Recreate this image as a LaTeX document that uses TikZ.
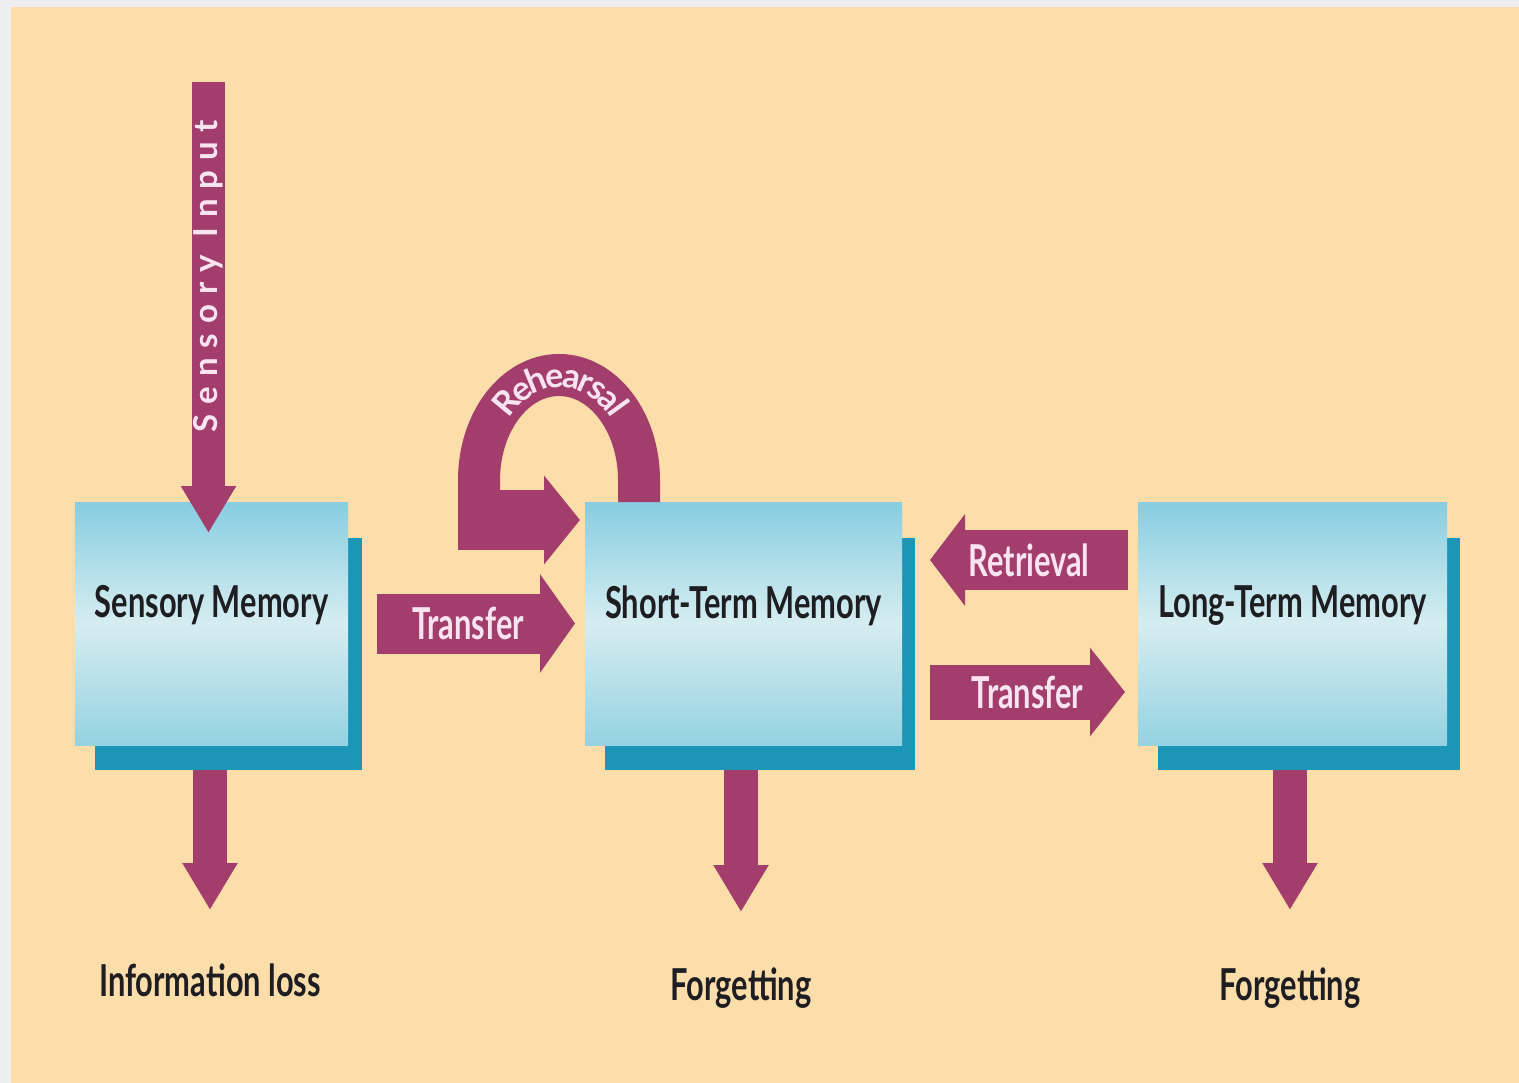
\documentclass[tikz,border=0pt]{standalone}
\usepackage{fontspec}
\setmainfont{Lato}[FakeStretch=0.7]
\newfontfamily\spacedfont{Lato}[LetterSpace=30]
\newfontfamily\archfont{Lato}[LetterSpace=8]
\usetikzlibrary{arrows.meta,decorations.text}

\definecolor{peach}{RGB}{253,221,170}
\definecolor{framegray}{RGB}{238,238,238}
\definecolor{plum}{RGB}{163,62,108}
\definecolor{tealdark}{RGB}{28,150,182}
\definecolor{boxtop}{RGB}{135,205,225}
\definecolor{boxmid}{RGB}{214,237,240}
\definecolor{boxbot}{RGB}{148,210,226}
\definecolor{pinkwhite}{RGB}{250,228,242}
\definecolor{inkdark}{RGB}{30,30,34}

\newcommand\rehfont{\archfont\bfseries\fontsize{34}{34}\selectfont\color{pinkwhite}}

\tikzset{
	membox/.style={inner sep=0,outer sep=0,top color=boxtop,bottom color=boxbot,middle color=boxmid},
	memshadow/.style={fill=tealdark,inner sep=0,outer sep=0},
	memtext/.style={text=inkdark,font=\bfseries\fontsize{44}{44}\selectfont,inner sep=0},
	outtext/.style={text=inkdark,font=\bfseries\fontsize{44}{44}\selectfont,inner sep=0},
	flow/.style={draw=plum,fill=plum},
	arrowtext/.style={text=pinkwhite,font=\bfseries\fontsize{44}{44}\selectfont,inner sep=0}
}

\begin{document}
\begin{tikzpicture}[x=1pt,y=-1pt]
	\fill[framegray] (0,0) rectangle (1519,1083);
	\fill[peach] (11,7) rectangle (1519,1083);
	\useasboundingbox (0,0) rectangle (1519,1083);

	% memory stores
	\node[memshadow,minimum width=267pt,minimum height=232pt] (smsh) at (228.5,654) {};
	\node[membox,minimum width=273pt,minimum height=243pt] (sm) at (211.5,623.5) {};
	\node[memtext] (smtext) at ([yshift=18pt]sm.center) {Sensory Memory};

	\node[memshadow,minimum width=310pt,minimum height=232pt] (stmsh) at (760,654) {};
	\node[membox,minimum width=317pt,minimum height=243pt] (stm) at (743.5,623.5) {};
	\node[memtext] (stmtext) at ([yshift=18pt]stm.center) {Short-Term Memory};

	\node[memshadow,minimum width=302pt,minimum height=232pt] (ltmsh) at (1309,654) {};
	\node[membox,minimum width=309pt,minimum height=243pt] (ltm) at (1292.5,623.5) {};
	\node[memtext] (ltmtext) at ([yshift=18pt]ltm.center) {Long-Term Memory};

	% outcomes
	\node[outtext] (loss) at (210,980) {Information loss};
	\node[outtext] (forget1) at (741,988) {Forgetting};
	\node[outtext] (forget2) at (1290,988) {Forgetting};

	% input
	\coordinate (in) at (208.5,82);
	\draw[flow,line width=33pt,-{Triangle[length=47pt,width=52pt]}] (in) -- ([shift={(0,31)}]in |- sm.north)
		node[pos=0.43,rotate=90,arrowtext,font=\spacedfont\bfseries\fontsize{33}{33}\selectfont] (intext) {Sensory Input};

	% transfers
	\draw[flow,line width=60pt,-{Triangle[length=35pt,width=97pt]}] ([xshift=29pt]sm.east) -- ([xshift=-10pt]stm.west)
		node[pos=0.46,arrowtext] (tr1) {Transfer};
	\draw[flow,line width=60pt,-{Triangle[length=35pt,width=90pt]}] ([shift={(-10,-63.5)}]ltm.west) -- ([shift={(28,-63.5)}]stm.east)
		node[pos=0.5,arrowtext] (ret) {Retrieval};
	\draw[flow,line width=55pt,-{Triangle[length=35pt,width=87pt]}] ([shift={(28,68.5)}]stm.east) -- ([shift={(-13,68.5)}]ltm.west)
		node[pos=0.5,arrowtext] (tr2) {Transfer};

	% rehearsal loop
	\draw[flow,fill=none,line width=42pt] ([xshift=-104.5pt]stm.north) -- ++(0,-22)
		arc[start angle=0,end angle=-180,x radius=80,y radius=105] -- ++(0,30);
	\draw[flow,line width=60pt,-{Triangle[length=36pt,width=87pt]}] ([shift={(-127,-103.5)}]stm.west) -- ([shift={(-5,-103.5)}]stm.west);
	\path[decorate,decoration={text along path,text align=center,raise=-12pt,text={|\rehfont|Rehearsal}}]
		([shift={(-263.5,-22)}]stm.north) arc[start angle=-180,end angle=0,x radius=80,y radius=105];

	% losses
	\draw[flow,line width=34pt,-{Triangle[length=47pt,width=52pt]}] ([yshift=-25pt]sm.south -| loss) -- ([yshift=70pt]loss.center);
	\draw[flow,line width=34pt,-{Triangle[length=47pt,width=52pt]}] ([yshift=-25pt]stm.south -| forget1) -- ([yshift=76pt]forget1.center);
	\draw[flow,line width=34pt,-{Triangle[length=47pt,width=52pt]}] ([yshift=-25pt]ltm.south -| forget2) -- ([yshift=78pt]forget2.center);
\end{tikzpicture}
\end{document}
